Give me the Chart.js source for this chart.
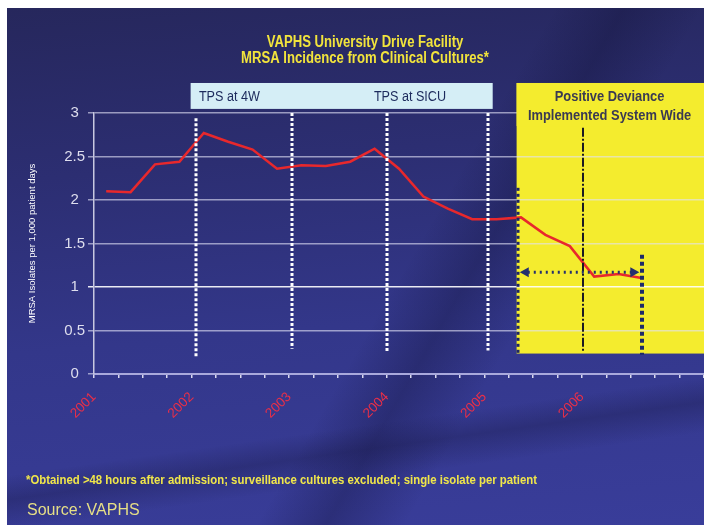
<!DOCTYPE html>
<html>
<head>
<meta charset="utf-8">
<script src="https://cdn.jsdelivr.net/npm/chart.js@4.4.1/dist/chart.umd.min.js"></script>
<style>
  html, body { margin: 0; padding: 0; background: #fff; }
  #wrap { position: relative; width: 704px; height: 525px; overflow: hidden; }
  #bg {
    position: absolute; left: 7px; top: 8px; right: 0; bottom: 0;
    background:
      linear-gradient(172deg, rgba(0,0,0,0) 0%, rgba(0,0,0,0) 76%, rgba(20,20,60,0.3) 80%, rgba(0,0,0,0) 85%),
      linear-gradient(120deg, rgba(0,0,0,0) 55%, rgba(15,15,50,0.3) 62%, rgba(0,0,0,0) 70%),
      linear-gradient(175deg, #26275c 0%, #2c2e72 30%, #33378a 60%, #393d9a 100%);
  }
  canvas { position: absolute; left: 0; top: 0; }
  #foot {
    position: absolute; left: 26px; top: 473px;
    font: bold 12.5px "Liberation Sans", Arial, sans-serif;
    color: #f0e64a; white-space: nowrap;
    transform: scaleX(0.91); transform-origin: 0 0;
  }
  #source {
    position: absolute; left: 27px; top: 501px;
    font: 16px "Liberation Sans", Arial, sans-serif;
    color: #e6df86; white-space: nowrap;
  }
</style>
</head>
<body>
<div id="wrap">
  <div id="bg"></div>
  <canvas id="chart" width="704" height="525"></canvas>
  <div id="foot">*Obtained &gt;48 hours after admission; surveillance cultures excluded; single isolate per patient</div>
  <div id="source">Source: VAPHS</div>
</div>
<script>
// ---------------------------------------------------------------- data
const years = ['2001', '2002', '2003', '2004', '2005', '2006'];
const quartersPerYear = 4;
const totalQuarters = 25;
// MRSA isolates per 1,000 patient days, one value per quarter from 2001 Q1
const mrsaRate = [2.10, 2.09, 2.41, 2.44, 2.77, 2.67, 2.58, 2.36, 2.40, 2.39, 2.44, 2.59,
                  2.36, 2.04, 1.90, 1.78, 1.78, 1.80, 1.60, 1.47, 1.12, 1.15, 1.10];
const yTicks = [0, 0.5, 1, 1.5, 2, 2.5, 3];

const titleLines = ['VAPHS University Drive Facility', 'MRSA Incidence from Clinical Cultures*'];

// annotations, in axis units (quarters / rate)
const tpsBox = { x0: 3.96, x1: 16.34, y0: 3.047, y1: 3.345 };
const tpsLabels = [
    { text: 'TPS at 4W', x: 4.3, y: 3.18, align: 'left' },
    { text: 'TPS at SICU', x: 12.95, y: 3.18, align: 'center' }
];
const tpsLines = [
    { x: 4.2, y0: 0.2, y1: 2.94 },
    { x: 8.13, y0: 0.29, y1: 3.0 },
    { x: 12.02, y0: 0.26, y1: 3.0 },
    { x: 16.15, y0: 0.27, y1: 3.0 }
];
const pdBox = { x0: 17.32, y0: 0.235, y1: 3.345, textBottom: 2.85 };
const pdLabels = [
    { text: 'Positive Deviance', x: 21.13, y: 3.18 },
    { text: 'Implemented System Wide', x: 21.13, y: 2.97 }
];

const sans = '"Liberation Sans", Arial, sans-serif';

// draws text squeezed horizontally, to look like the narrow face of the original
const narrowText = (ctx, text, x, y, font, color, align, squeeze) => {
    ctx.save();
    ctx.translate(x, y);
    ctx.scale(squeeze, 1);
    ctx.font = font;
    ctx.fillStyle = color;
    ctx.textAlign = align;
    ctx.textBaseline = 'middle';
    ctx.fillText(text, 0, 0);
    ctx.restore();
};

// ---------------------------------------------------------------- plugin
const annotate = {
    id: 'annotate',
    beforeDraw(chart) {
        const { ctx } = chart;
        const x = chart.scales.x, y = chart.scales.y;
        ctx.save();
        // yellow "positive deviance" panel
        ctx.fillStyle = '#f4ec2e';
        const px0 = x.getPixelForValue(pdBox.x0);
        const py0 = y.getPixelForValue(pdBox.y1);
        const py1 = y.getPixelForValue(pdBox.y0);
        ctx.fillRect(px0, py0, chart.width - px0, py1 - py0);
        // TPS band
        ctx.fillStyle = '#d5eef6';
        const tx0 = x.getPixelForValue(tpsBox.x0), tx1 = x.getPixelForValue(tpsBox.x1);
        const ty0 = y.getPixelForValue(tpsBox.y1), ty1 = y.getPixelForValue(tpsBox.y0);
        ctx.fillRect(tx0, ty0, tx1 - tx0, ty1 - ty0);
        tpsLabels.forEach(l => {
            narrowText(ctx, l.text, x.getPixelForValue(l.x), y.getPixelForValue(l.y),
                '14px ' + sans, '#1c2a5c', l.align, 0.9);
        });
        // title
        titleLines.forEach((t, i) => {
            narrowText(ctx, t, 365, 43 + i * 16, 'bold 16px ' + sans, '#f2e43c', 'center', 0.82);
        });
        ctx.restore();
    },
    afterDatasetsDraw(chart) {
        const { ctx } = chart;
        const x = chart.scales.x, y = chart.scales.y;
        const vline = (xv, y0, y1, color, width, dash) => {
            ctx.beginPath();
            ctx.strokeStyle = color;
            ctx.lineWidth = width;
            ctx.setLineDash(dash);
            const px = Math.round(x.getPixelForValue(xv));
            ctx.moveTo(px, y.getPixelForValue(y1));
            ctx.lineTo(px, y.getPixelForValue(y0));
            ctx.stroke();
        };
        ctx.save();
        // text area of the yellow panel hides the top grid line
        const px0 = x.getPixelForValue(pdBox.x0);
        const py0 = y.getPixelForValue(pdBox.y1);
        ctx.fillStyle = '#f4ec2e';
        ctx.fillRect(px0, py0, chart.width - px0, y.getPixelForValue(pdBox.textBottom) - py0);
        pdLabels.forEach(l => {
            narrowText(ctx, l.text, x.getPixelForValue(l.x), y.getPixelForValue(l.y),
                'bold 15px ' + sans, '#3a3a52', 'center', 0.86);
        });

        tpsLines.forEach(l => vline(l.x, l.y0, l.y1, '#ffffff', 3, [3, 2]));
        // left edge of the PD period, middle marker, end marker
        vline(17.39, 0.23, 2.14, '#1e2666', 3, [3, 3]);
        vline(20.03, 0.25, 2.83, '#1a1a22', 2, [9, 2, 2, 2]);
        vline(22.47, 0.22, 1.37, '#1e2a6a', 4, [4, 3]);

        // dotted double arrow
        const ay = y.getPixelForValue(1.17);
        const ax0 = x.getPixelForValue(17.45), ax1 = x.getPixelForValue(22.35);
        ctx.beginPath();
        ctx.strokeStyle = '#24306e';
        ctx.lineWidth = 3;
        ctx.setLineDash([2, 4]);
        ctx.moveTo(ax0 + 8, ay);
        ctx.lineTo(ax1 - 8, ay);
        ctx.stroke();
        ctx.setLineDash([]);
        ctx.fillStyle = '#24306e';
        ctx.beginPath();
        ctx.moveTo(ax0, ay); ctx.lineTo(ax0 + 9, ay - 5); ctx.lineTo(ax0 + 9, ay + 5); ctx.closePath();
        ctx.fill();
        ctx.beginPath();
        ctx.moveTo(ax1, ay); ctx.lineTo(ax1 - 9, ay - 5); ctx.lineTo(ax1 - 9, ay + 5); ctx.closePath();
        ctx.fill();
        ctx.restore();
    }
};

// ---------------------------------------------------------------- chart
const ctx = document.getElementById('chart').getContext('2d');
const myChart = new Chart(ctx, {
    type: 'line',
    data: {
        datasets: [{
            label: 'MRSA isolates per 1,000 patient days',
            data: mrsaRate.map((v, i) => ({ x: i + 0.5, y: v })),
            borderColor: '#e8282c',
            borderWidth: 2.5,
            pointRadius: 0,
            tension: 0,
            fill: false
        }]
    },
    options: {
        responsive: false,
        animation: false,
        layout: { padding: { top: 113, left: 0, right: 0, bottom: 0 } },
        plugins: {
            legend: { display: false },
            tooltip: { enabled: false },
            title: { display: false }
        },
        scales: {
            x: {
                type: 'linear',
                min: 0,
                max: totalQuarters,
                afterBuildTicks: (scale) => {
                    scale.ticks = [];
                    for (let q = 0; q <= totalQuarters; q++) scale.ticks.push({ value: q });
                },
                afterFit: (scale) => {
                    scale.height = 151;
                    scale.paddingLeft = 0;
                    scale.paddingRight = 0;
                },
                grid: {
                    drawOnChartArea: false,
                    color: '#d8d8ee',
                    lineWidth: 1.5,
                    tickLength: 4
                },
                border: { color: '#a9a9dc', width: 2 },
                ticks: {
                    autoSkip: false,
                    minRotation: 45,
                    maxRotation: 45,
                    padding: 11,
                    color: '#ea2f48',
                    font: { family: sans, size: 13.5 },
                    callback: (v) => {
                        const yi = v / quartersPerYear;
                        return Number.isInteger(yi) && yi < years.length ? years[yi] : '';
                    }
                }
            },
            y: {
                min: yTicks[0],
                max: yTicks[yTicks.length - 1],
                afterBuildTicks: (scale) => { scale.ticks = yTicks.map(v => ({ value: v })); },
                afterFit: (scale) => { scale.width = 94; },
                grid: {
                    color: (c) => c.tick && c.tick.value === 1 ? 'rgba(255,255,255,0.9)' : 'rgba(225,225,245,0.62)',
                    lineWidth: 1.5,
                    tickLength: 6
                },
                border: { color: '#c8c8e0', width: 1.5 },
                ticks: {
                    padding: 3,
                    crossAlign: 'center',
                    color: '#dedeee',
                    font: { family: sans, size: 15 },
                    callback: (v) => String(v)
                },
                title: {
                    display: true,
                    text: 'MRSA Isolates per 1,000 patient days',
                    color: '#ffffff',
                    font: { family: sans, size: 9.5 },
                    padding: { top: 27, bottom: 0 }
                }
            }
        }
    },
    plugins: [annotate]
});
</script>
</body>
</html>
